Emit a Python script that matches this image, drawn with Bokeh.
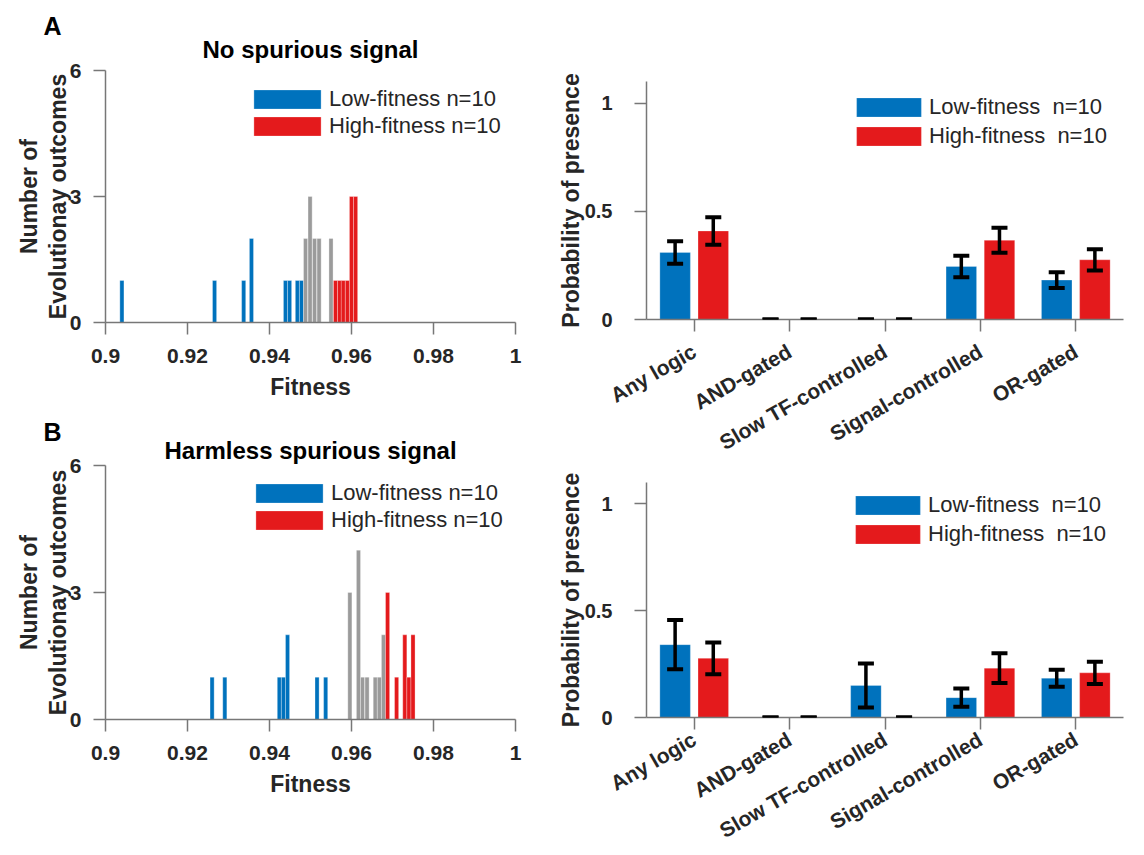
import math
from bokeh.plotting import figure
from bokeh.layouts import row, column
from bokeh.models import (ColumnDataSource, FactorRange, Range1d, FixedTicker, Legend,
                          LegendItem, Whisker, TeeHead, Title)
from bokeh.transform import dodge
from bokeh.embed import file_html
from bokeh.resources import INLINE

# ---------------- data ----------------
# Histograms (bin centres, counts); bin width 0.001
bin_width = 0.001
hA_low_x = [0.9040, 0.9266, 0.9337, 0.9356, 0.9439, 0.9449, 0.9468, 0.9478]
hA_low_n = [1, 1, 1, 2, 1, 1, 1, 1]
hA_mid_x = [0.9488, 0.9499, 0.9510, 0.9521, 0.9550]
hA_mid_n = [2, 3, 2, 2, 2]
hA_high_x = [0.9561, 0.9571, 0.9580, 0.9590, 0.9600, 0.9610]
hA_high_n = [1, 1, 1, 1, 3, 3]

hB_low_x = [0.9260, 0.9291, 0.9424, 0.9434, 0.9444, 0.9516, 0.9537]
hB_low_n = [1, 1, 1, 1, 2, 1, 1]
hB_mid_x = [0.9596, 0.9617, 0.9627, 0.9638, 0.9658, 0.9668, 0.9678]
hB_mid_n = [3, 4, 1, 1, 1, 1, 2]
hB_high_x = [0.9688, 0.9710, 0.9730, 0.9740, 0.9750]
hB_high_n = [3, 1, 2, 1, 2]

hist_ticks = [0.9, 0.92, 0.94, 0.96, 0.98, 1]
hist_tick_labels = ["0.9", "0.92", "0.94", "0.96", "0.98", "1"]
count_ticks = [0, 3, 6]

# Bar charts
categories = ["Any logic", "AND-gated", "Slow TF-controlled", "Signal-controlled", "OR-gated"]
bA_low = [0.31, 0.0, 0.0, 0.245, 0.182]
bA_low_err = [0.052, 0.0, 0.0, 0.050, 0.036]
bA_high = [0.409, 0.0, 0.0, 0.366, 0.276]
bA_high_err = [0.064, 0.0, 0.0, 0.058, 0.049]
bB_low = [0.341, 0.0, 0.150, 0.093, 0.184]
bB_low_err = [0.115, 0.0, 0.103, 0.043, 0.040]
bB_high = [0.277, 0.0, 0.0, 0.231, 0.209]
bB_high_err = [0.074, 0.0, 0.0, 0.070, 0.052]
prob_ticks = [0, 0.5, 1]
prob_tick_labels = ["0", "0.5", "1"]

hist_legend = ["Low-fitness n=10", "High-fitness n=10"]
bar_legend = ["Low-fitness  n=10", "High-fitness  n=10"]

# ---------------- style ----------------
FONT = "Liberation Sans"
BLUE = "#0072BD"
RED = "#E41A1C"
GRAY = "#9B9B9B"
TXT = "#262626"
AX = "#777777"


def set_safe(obj, attr, val, fallback):
    try:
        setattr(obj, attr, val)
    except Exception:
        setattr(obj, attr, fallback)


def style_axes(p, tick_size, label_size):
    for ax in (p.xaxis[0], p.yaxis[0]):
        ax.axis_line_color = AX
        ax.axis_line_width = 1.5
        ax.major_tick_line_color = AX
        ax.major_tick_line_width = 1.5
        ax.major_tick_out = 12
        ax.major_tick_in = 0
        ax.minor_tick_line_color = None
        ax.major_label_text_font = FONT
        ax.major_label_text_font_style = "bold"
        ax.major_label_text_font_size = tick_size
        ax.major_label_text_color = TXT
        ax.axis_label_text_font = FONT
        ax.axis_label_text_font_style = "bold"
        ax.axis_label_text_font_size = label_size
        ax.axis_label_text_color = TXT
        ax.axis_label_text_line_height = 1.1
    p.xgrid.grid_line_color = None
    p.ygrid.grid_line_color = None
    p.outline_line_color = None


def add_titles(p, main, letter, s_main, s_letter):
    p.add_layout(Title(text=main, align="center", text_font=FONT, text_font_size="24px",
                       text_font_style="bold", text_color="black", standoff=s_main), "above")
    t = Title(text=letter, align="left", offset=-62, text_font=FONT, text_font_size="25px",
              text_font_style="bold", text_color="black")
    set_safe(t, "standoff", s_letter, 0)
    p.add_layout(t, "above")


def make_legend(renderers, labels, loc, gw, spacing):
    return Legend(items=[LegendItem(label=lab, renderers=[r]) for lab, r in zip(labels, renderers)],
                  location=loc, orientation="vertical", glyph_width=gw, glyph_height=24,
                  spacing=spacing, padding=0, margin=0, label_standoff=0, label_height=24,
                  label_text_font=FONT, label_text_font_size="22px", label_text_color=TXT,
                  background_fill_alpha=0, border_line_color=None)


def hist_panel(title, letter, s_main, s_letter, lx, ln, mx, mn, hx, hn, height, btop, bbot, leg_loc):
    p = figure(width=540, height=height, x_range=Range1d(0.9, 1.0), y_range=Range1d(0, 6),
               title=None, output_backend="svg", toolbar_location=None,
               min_border_left=105, min_border_right=25, min_border_top=btop, min_border_bottom=bbot)
    # coloured baseline (empty bins of each group)
    p.line(x=[p.x_range.start, min(mx) - bin_width / 2], y=[0, 0], line_color=BLUE, line_width=1.2)
    p.line(x=[max(hx) + bin_width / 2, p.x_range.end], y=[0, 0], line_color=RED, line_width=1.2, line_alpha=0.6)
    rl = p.vbar(x=lx, top=ln, width=bin_width, fill_color=BLUE, line_color="white", line_width=0.5, line_alpha=0.6)
    p.vbar(x=mx, top=mn, width=bin_width, fill_color=GRAY, line_color="white", line_width=0.5, line_alpha=0.6)
    rh = p.vbar(x=hx, top=hn, width=bin_width, fill_color=RED, line_color="white", line_width=0.5, line_alpha=0.6)
    style_axes(p, "21px", "23px")
    p.xaxis.ticker = FixedTicker(ticks=hist_ticks)
    p.xaxis.major_label_overrides = dict(zip(hist_ticks, hist_tick_labels))
    p.yaxis.ticker = FixedTicker(ticks=count_ticks)
    p.xaxis.axis_label = "Fitness"
    p.yaxis.axis_label = "Number of\nEvolutionay outcomes"
    p.xaxis.major_label_standoff = 14
    p.yaxis.major_label_standoff = 12
    set_safe(p.yaxis[0], "axis_label_standoff", -4, 0)
    p.xaxis.axis_label_standoff = 8
    add_titles(p, title, letter, s_main, s_letter)
    p.add_layout(make_legend([rl, rh], hist_legend, leg_loc, 84, 1))
    return p


def bar_panel(low, low_err, high, high_err, width, height, btop, bbot, bleft, xstand, leg_loc):
    p = figure(width=width, height=height, x_range=FactorRange(factors=categories), y_range=Range1d(0, 1.1),
               title=None, output_backend="svg", toolbar_location=None,
               min_border_left=bleft, min_border_right=17, min_border_top=btop, min_border_bottom=bbot)
    src = ColumnDataSource(dict(
        cat=categories, low=low, high=high,
        low_lo=[v - e for v, e in zip(low, low_err)], low_hi=[v + e for v, e in zip(low, low_err)],
        high_lo=[v - e for v, e in zip(high, high_err)], high_hi=[v + e for v, e in zip(high, high_err)]))
    rl = p.vbar(x=dodge("cat", -0.2, range=p.x_range), top="low", width=0.32, source=src,
                fill_color=BLUE, line_color="white", line_width=0.5, line_alpha=0.5)
    rh = p.vbar(x=dodge("cat", 0.2, range=p.x_range), top="high", width=0.32, source=src,
                fill_color=RED, line_color="white", line_width=0.5, line_alpha=0.5)
    for off, lo, hi in ((-0.2, "low_lo", "low_hi"), (0.2, "high_lo", "high_hi")):
        w = Whisker(base=dodge("cat", off, range=p.x_range), lower=lo, upper=hi, source=src,
                    line_color="black", line_width=3.5, level="annotation",
                    upper_head=TeeHead(size=16, line_width=4, line_color="black"),
                    lower_head=TeeHead(size=16, line_width=4, line_color="black"))
        p.add_layout(w)
    style_axes(p, "20px", "23px")
    p.xaxis.major_label_text_font_size = "21px"
    p.yaxis.ticker = FixedTicker(ticks=prob_ticks)
    p.yaxis.major_label_overrides = dict(zip(prob_ticks, prob_tick_labels))
    p.yaxis.axis_label = "Probability of presence"
    p.yaxis.major_label_standoff = 22
    set_safe(p.yaxis[0], "axis_label_standoff", -2, 0)
    p.xaxis.major_label_orientation = math.pi / 6
    p.xaxis.major_label_standoff = xstand
    p.add_layout(make_legend([rl, rh], bar_legend, leg_loc, 81, 3))
    return p


hA = hist_panel("No spurious signal", "A", 16, -28, hA_low_x, hA_low_n, hA_mid_x, hA_mid_n,
                hA_high_x, hA_high_n, 410, 70, 88, (140, 183))
hB = hist_panel("Harmless spurious signal", "B", 4, -26, hB_low_x, hB_low_n, hB_mid_x, hB_mid_n,
                hB_high_x, hB_high_n, 443, 55, 134, (142, 186))
bA = bar_panel(bA_low, bA_low_err, bA_high, bA_high_err, 600, 470, 81, 151, 105, 18, (202, 170))
bB = bar_panel(bB_low, bB_low_err, bB_high, bB_high_err, 600, 384, 12, 136, 106, 8, (201, 170))

layout = row(column(hA, hB), column(bA, bB))
open("out.html", "w").write(file_html(layout, INLINE))
